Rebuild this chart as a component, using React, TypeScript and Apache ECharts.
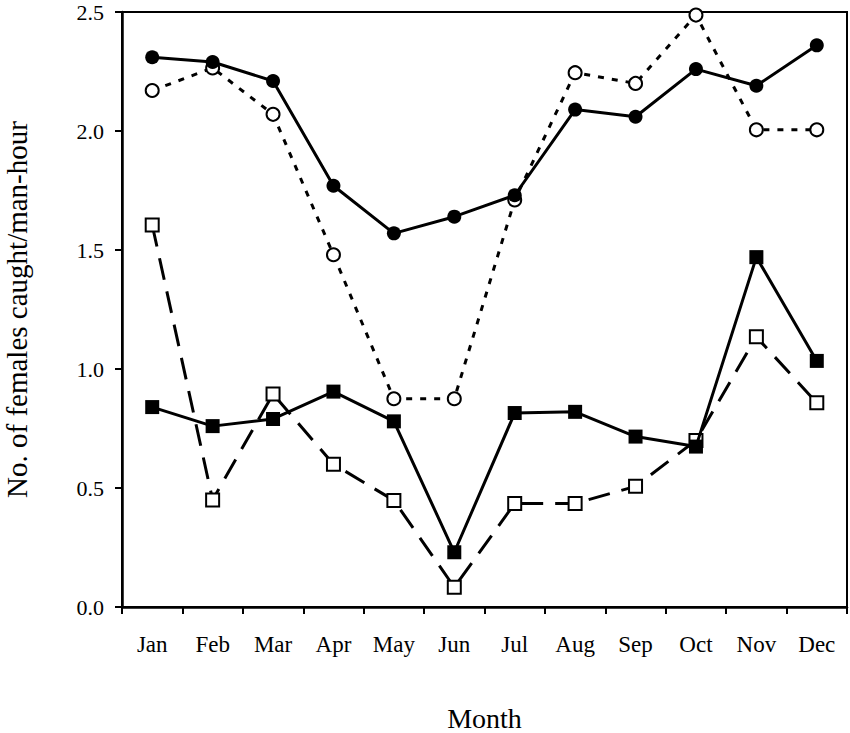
import { useEffect, useRef } from 'react';
import * as echarts from 'echarts';

const months = ['Jan', 'Feb', 'Mar', 'Apr', 'May', 'Jun', 'Jul', 'Aug', 'Sep', 'Oct', 'Nov', 'Dec'];

// filled circles, solid line
const filledCircles = [2.31, 2.29, 2.21, 1.77, 1.57, 1.64, 1.73, 2.09, 2.06, 2.26, 2.19, 2.36];
// open circles, dotted line
const openCircles = [2.17, 2.265, 2.07, 1.48, 0.875, 0.875, 1.71, 2.245, 2.2, 2.487, 2.005, 2.005];
// filled squares, solid line
const filledSquares = [0.84, 0.76, 0.79, 0.905, 0.78, 0.23, 0.815, 0.82, 0.716, 0.674, 1.47, 1.034];
// open squares, long-dashed line
const openSquares = [1.605, 0.45, 0.895, 0.6, 0.448, 0.083, 0.435, 0.435, 0.507, 0.7, 1.135, 0.858];

const FONT = '"Liberation Serif", "Times New Roman", serif';

export default function App() {
  const chartRef = useRef<HTMLDivElement>(null);

  useEffect(() => {
    if (!chartRef.current) return;
    const chart = echarts.init(chartRef.current, undefined, { renderer: 'svg' });

    const option: echarts.EChartsOption = {
      animation: false,
      backgroundColor: '#fff',
      grid: {
        left: 122,
        top: 12,
        width: 725,
        height: 595,
        outerBoundsMode: 'none',
        show: true,
        borderColor: '#000',
        borderWidth: 2,
        backgroundColor: 'transparent',
      } as any,
      xAxis: {
        type: 'category',
        data: months,
        boundaryGap: true,
        name: 'Month',
        nameLocation: 'middle',
        nameGap: 97,
        nameTextStyle: { color: '#000', fontFamily: FONT, fontSize: 28 },
        axisLine: { lineStyle: { color: '#000', width: 2.5 } },
        axisTick: { show: true, length: 7, lineStyle: { color: '#000', width: 2 } },
        axisLabel: { color: '#000', fontFamily: FONT, fontSize: 23, margin: 26 },
        splitLine: { show: false },
      },
      yAxis: {
        type: 'value',
        min: 0,
        max: 2.5,
        interval: 0.5,
        name: 'No. of females caught/man-hour',
        nameLocation: 'middle',
        nameGap: 93,
        nameTextStyle: { color: '#000', fontFamily: FONT, fontSize: 29, lineHeight: 24 },
        axisLine: { show: true, lineStyle: { color: '#000', width: 2.5 } },
        axisTick: { show: true, length: 7, lineStyle: { color: '#000', width: 2 } },
        axisLabel: {
          color: '#000',
          fontFamily: FONT,
          fontSize: 22,
          lineHeight: 16,
          margin: 18,
          formatter: (v: number) => v.toFixed(1),
        },
        splitLine: { show: false },
      },
      series: [
        {
          type: 'line',
          data: openCircles,
          symbol: 'circle',
          symbolSize: 13,
          lineStyle: { color: '#000', width: 3, type: [6, 8] },
          itemStyle: { color: '#fff', borderColor: '#000', borderWidth: 2 },
          z: 2,
        },
        {
          type: 'line',
          data: openSquares,
          symbol: 'rect',
          symbolSize: 13,
          lineStyle: { color: '#000', width: 3, type: [22, 12] },
          itemStyle: { color: '#fff', borderColor: '#000', borderWidth: 2 },
          z: 2,
        },
        {
          type: 'line',
          data: filledCircles,
          symbol: 'circle',
          symbolSize: 14,
          lineStyle: { color: '#000', width: 3 },
          itemStyle: { color: '#000' },
          z: 3,
        },
        {
          type: 'line',
          data: filledSquares,
          symbol: 'rect',
          symbolSize: 14,
          lineStyle: { color: '#000', width: 3 },
          itemStyle: { color: '#000' },
          z: 3,
        },
      ],
    };

    chart.setOption(option);
    return () => {
      chart.dispose();
    };
  }, []);

  return (
    <div
      ref={chartRef}
      style={{ position: 'absolute', left: 0, top: 0, width: 850, height: 733 }}
    />
  );
}
